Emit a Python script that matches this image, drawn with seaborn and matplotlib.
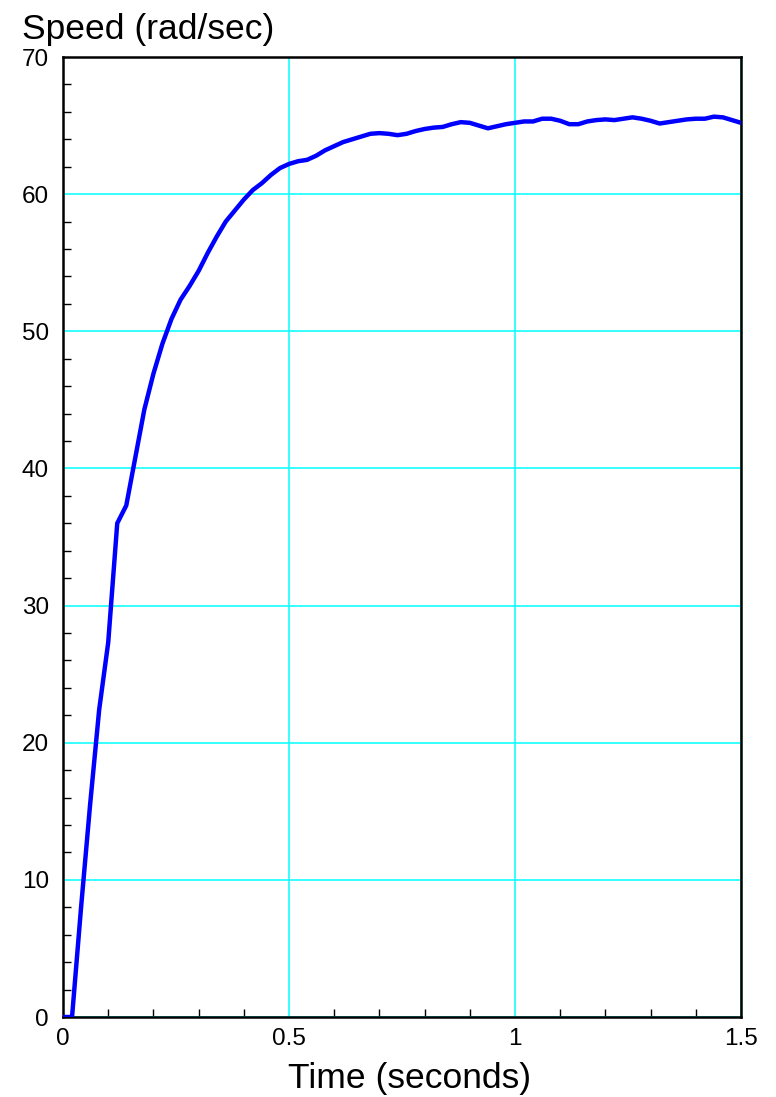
import numpy as np
import pandas as pd
import matplotlib
matplotlib.use("Agg")
import matplotlib.pyplot as plt
import seaborn as sns
from matplotlib.ticker import MultipleLocator

# 轉速資料 (每 0.02 秒取樣)
time_s = [0.00, 0.02, 0.04, 0.06, 0.08, 0.10, 0.12, 0.14, 0.16, 0.18,
          0.20, 0.22, 0.24, 0.26, 0.28, 0.30, 0.32, 0.34, 0.36, 0.38,
          0.40, 0.42, 0.44, 0.46, 0.48, 0.50, 0.52, 0.54, 0.56, 0.58,
          0.60, 0.62, 0.64, 0.66, 0.68, 0.70, 0.72, 0.74, 0.76, 0.78,
          0.80, 0.82, 0.84, 0.86, 0.88, 0.90, 0.92, 0.94, 0.96, 0.98,
          1.00, 1.02, 1.04, 1.06, 1.08, 1.10, 1.12, 1.14, 1.16, 1.18,
          1.20, 1.22, 1.24, 1.26, 1.28, 1.30, 1.32, 1.34, 1.36, 1.38,
          1.40, 1.42, 1.44, 1.46, 1.48, 1.50]
speed = [0.0, 0.0, 8.0, 15.5, 22.4, 27.3, 36.0, 37.3, 40.8, 44.3,
         46.9, 49.1, 50.9, 52.3, 53.3, 54.4, 55.7, 56.9, 58.0, 58.8,
         59.6, 60.3, 60.8, 61.4, 61.9, 62.2, 62.4, 62.5, 62.8, 63.2,
         63.5, 63.8, 64.0, 64.2, 64.4, 64.45, 64.4, 64.3, 64.4, 64.6,
         64.75, 64.85, 64.9, 65.1, 65.25, 65.2, 65.0, 64.8, 64.95, 65.1,
         65.2, 65.3, 65.3, 65.5, 65.5, 65.35, 65.1, 65.1, 65.3, 65.4,
         65.45, 65.4, 65.5, 65.6, 65.5, 65.35, 65.15, 65.25, 65.35, 65.45,
         65.5, 65.5, 65.65, 65.6, 65.4, 65.2]

x_ticks = [0, 0.5, 1, 1.5]
x_tick_labels = ["0", "0.5", "1", "1.5"]
y_ticks = [0, 10, 20, 30, 40, 50, 60, 70]

sns.set_style("white")
plt.rcParams['font.family'] = ['Liberation Sans', 'DejaVu Sans']
plt.rcParams['text.color'] = 'black'
plt.rcParams['xtick.color'] = 'black'
plt.rcParams['ytick.color'] = 'black'

df = pd.DataFrame({'Time': time_s, 'Speed': speed})

fig = plt.figure(figsize=(7.76, 10.97), dpi=100)
ax = fig.add_axes([63 / 776, 80 / 1097, 678 / 776, 960 / 1097])

sns.lineplot(data=df, x='Time', y='Speed', ax=ax, color='#0000FF',
             linewidth=3.2, zorder=3)

ax.set_xlim(0, 1.5)
ax.set_ylim(0, 70)
ax.set_xticks(x_ticks)
ax.set_xticklabels(x_tick_labels)
ax.set_yticks(y_ticks)
ax.xaxis.set_minor_locator(MultipleLocator(0.1))
ax.yaxis.set_minor_locator(MultipleLocator(2))

ax.grid(True, which='major', color='#00FFFF', linewidth=1.1, zorder=1)
ax.tick_params(which='both', direction='in', bottom=True, left=True,
               top=False, right=False, color='black', width=1.0,
               labelcolor='black')
ax.tick_params(which='major', length=0, labelsize=17.5, pad=8)
ax.tick_params(axis='y', which='major', pad=10)
ax.tick_params(which='minor', length=5.5)

for sp in ax.spines.values():
    sp.set_visible(True)
    sp.set_color('black')
    sp.set_linewidth(1.8)

ax.set_xlabel('')
ax.set_ylabel('')

# 軸標題
fig.text(22 / 776, 1 - 39 / 1097, 'Speed (rad/sec)', fontsize=25.5,
         ha='left', va='baseline', color='black')
fig.text(410 / 776, 1 - 1088 / 1097, 'Time (seconds)', fontsize=25.5,
         ha='center', va='baseline', color='black')

fig.savefig('out.png', dpi=100)
